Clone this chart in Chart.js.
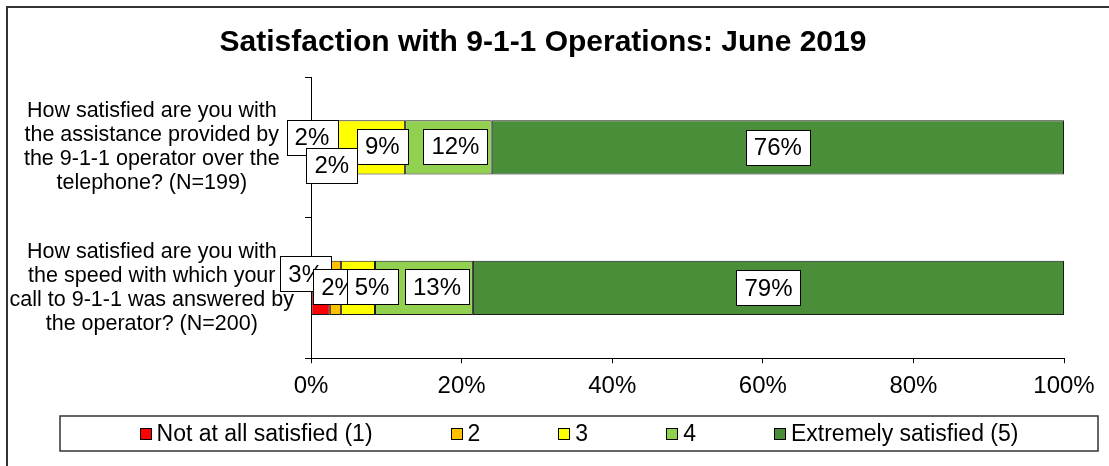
<!DOCTYPE html>
<html>
<head>
<meta charset="utf-8">
<script src="https://cdn.jsdelivr.net/npm/chart.js@4"></script>
<style>
html,body{margin:0;padding:0;background:#fff;}
#wrap{position:relative;width:1109px;height:466px;overflow:hidden;}
</style>
</head>
<body>
<div id="wrap"><canvas id="c" width="1109" height="466"></canvas></div>
<script>
const chartTitle = 'Satisfaction with 9-1-1 Operations: June 2019';
const categories = [
  ['How satisfied are you with', 'the assistance provided by', 'the 9-1-1 operator over the', 'telephone? (N=199)'],
  ['How satisfied are you with', 'the speed with which your', 'call to 9-1-1 was answered by', 'the operator? (N=200)']
];
const seriesNames = ['Not at all satisfied (1)', '2', '3', '4', 'Extremely satisfied (5)'];
const notSatisfied = [1.5, 2.5];
const rating2 = [2.0, 1.5];
const rating3 = [9.0, 4.5];
const rating4 = [11.5, 13.0];
const extremelySatisfied = [76.0, 78.5];
const xTicks = [0, 20, 40, 60, 80, 100];

const seriesColors = ['#FF0000', '#FFC000', '#FFFF00', '#92D050', '#4A8E3A'];
// label nudges (style only), per series: [first bar, second bar]
const labelDx = [[-5, -15], [2, 3], [11, 14], [7, 13], [0, 0]];
const labelDy = [[-10, -14], [18, -1], [-1, -1], [-1, -1], [0, 0]];

const FONT = "'Liberation Sans', Arial, sans-serif";
const seriesValues = [notSatisfied, rating2, rating3, rating4, extremelySatisfied];

const frame = {
  id: 'frame',
  beforeDraw(chart) {
    const ctx = chart.ctx;
    ctx.save();
    ctx.fillStyle = '#fff';
    ctx.fillRect(0, 0, chart.width, chart.height);
    ctx.strokeStyle = '#333';
    ctx.lineWidth = 2;
    ctx.beginPath();
    ctx.moveTo(7, chart.height + 5);
    ctx.lineTo(7, 7);
    ctx.lineTo(chart.width + 5, 7);
    ctx.stroke();
    ctx.restore();
  }
};

const dataLabels = {
  id: 'dataLabels',
  afterDatasetsDraw(chart) {
    const ctx = chart.ctx;
    ctx.save();
    ctx.font = '24px ' + FONT;
    ctx.textAlign = 'center';
    ctx.textBaseline = 'middle';
    chart.data.datasets.forEach((ds, di) => {
      const meta = chart.getDatasetMeta(di);
      meta.data.forEach((bar, i) => {
        const v = ds.data[i];
        const txt = Math.round(v) + '%';
        const cx = (bar.x + bar.base) / 2 + labelDx[di][i];
        const cy = bar.y + labelDy[di][i];
        const w = ctx.measureText(txt).width + 16;
        const h = 35;
        const x0 = Math.round(cx - w / 2) + 0.5, y0 = Math.round(cy - h / 2) + 0.5;
        ctx.fillStyle = '#fff';
        ctx.fillRect(x0, y0, Math.round(w), h);
        ctx.strokeStyle = '#000';
        ctx.lineWidth = 1;
        ctx.strokeRect(x0, y0, Math.round(w), h);
        ctx.fillStyle = '#000';
        ctx.fillText(txt, cx, cy + 1);
      });
    });
    ctx.restore();
  }
};

const legendBox = {
  id: 'legendBox',
  afterDraw(chart) {
    const ctx = chart.ctx;
    const left = 60, right = 1098, top = 416, bottom = 451;
    ctx.save();
    ctx.strokeStyle = '#333';
    ctx.lineWidth = 1.5;
    ctx.strokeRect(left, top, right - left, bottom - top);
    ctx.font = '23px ' + FONT;
    ctx.textBaseline = 'middle';
    ctx.textAlign = 'left';
    const box = 12, gapText = 5, gapItem = 78;
    const widths = chart.data.datasets.map(d => box + gapText + ctx.measureText(d.label).width);
    const total = widths.reduce((a, b) => a + b, 0) + gapItem * (widths.length - 1);
    let x = (left + right) / 2 - total / 2;
    const cy = (top + bottom) / 2;
    chart.data.datasets.forEach((d, i) => {
      ctx.fillStyle = d.backgroundColor;
      const bx = Math.round(x) + 0.5, by = Math.round(cy - box / 2) + 0.5;
      ctx.fillRect(bx, by, box - 1, box - 1);
      ctx.strokeStyle = '#000';
      ctx.lineWidth = 1;
      ctx.strokeRect(bx, by, box - 1, box - 1);
      ctx.fillStyle = '#000';
      ctx.fillText(d.label, x + box + gapText, cy + 1);
      x += widths[i] + gapItem;
    });
    ctx.restore();
  }
};

new Chart(document.getElementById('c'), {
  type: 'bar',
  data: {
    labels: categories,
    datasets: seriesNames.map((name, i) => ({
      label: name,
      data: seriesValues[i],
      backgroundColor: seriesColors[i],
      borderColor: '#1a1a1a',
      borderWidth: 1,
      borderSkipped: false,
      categoryPercentage: 1,
      barPercentage: 0.386
    }))
  },
  options: {
    indexAxis: 'y',
    responsive: false,
    animation: false,
    layout: { padding: { left: 0, right: 23, top: 0, bottom: 56 } },
    scales: {
      x: {
        stacked: true,
        min: 0,
        max: 100,
        afterBuildTicks(scale) { scale.ticks = xTicks.map(v => ({ value: v })); },
        ticks: {
          color: '#000',
          padding: 9,
          font: { family: FONT, size: 24 },
          callback: v => v + '%'
        },
        grid: { drawOnChartArea: false, drawTicks: true, tickLength: 5, color: '#000' },
        border: { display: true, color: '#000', width: 1 }
      },
      y: {
        stacked: true,
        afterFit(scale) { scale.width = 311; },
        ticks: {
          color: '#000',
          padding: 11,
          crossAlign: 'center',
          font: { family: FONT, size: 21.5, lineHeight: 1.12 }
        },
        grid: { drawOnChartArea: false, drawTicks: true, tickLength: 6, color: '#000', offset: true },
        border: { display: true, color: '#000', width: 1 }
      },
      ySpacer: {
        type: 'category',
        position: 'right',
        display: true,
        ticks: { display: false },
        grid: { display: false, drawTicks: false },
        border: { display: false },
        afterFit(scale) { scale.width = 22; }
      }
    },
    plugins: {
      legend: { display: false },
      tooltip: { enabled: false },
      title: {
        display: true,
        text: chartTitle,
        color: '#000',
        font: { family: FONT, size: 30, weight: 'bold', lineHeight: 1.2 },
        padding: { top: 24.5, bottom: 16.5 }
      }
    }
  },
  plugins: [frame, dataLabels, legendBox]
});
</script>
</body>
</html>
